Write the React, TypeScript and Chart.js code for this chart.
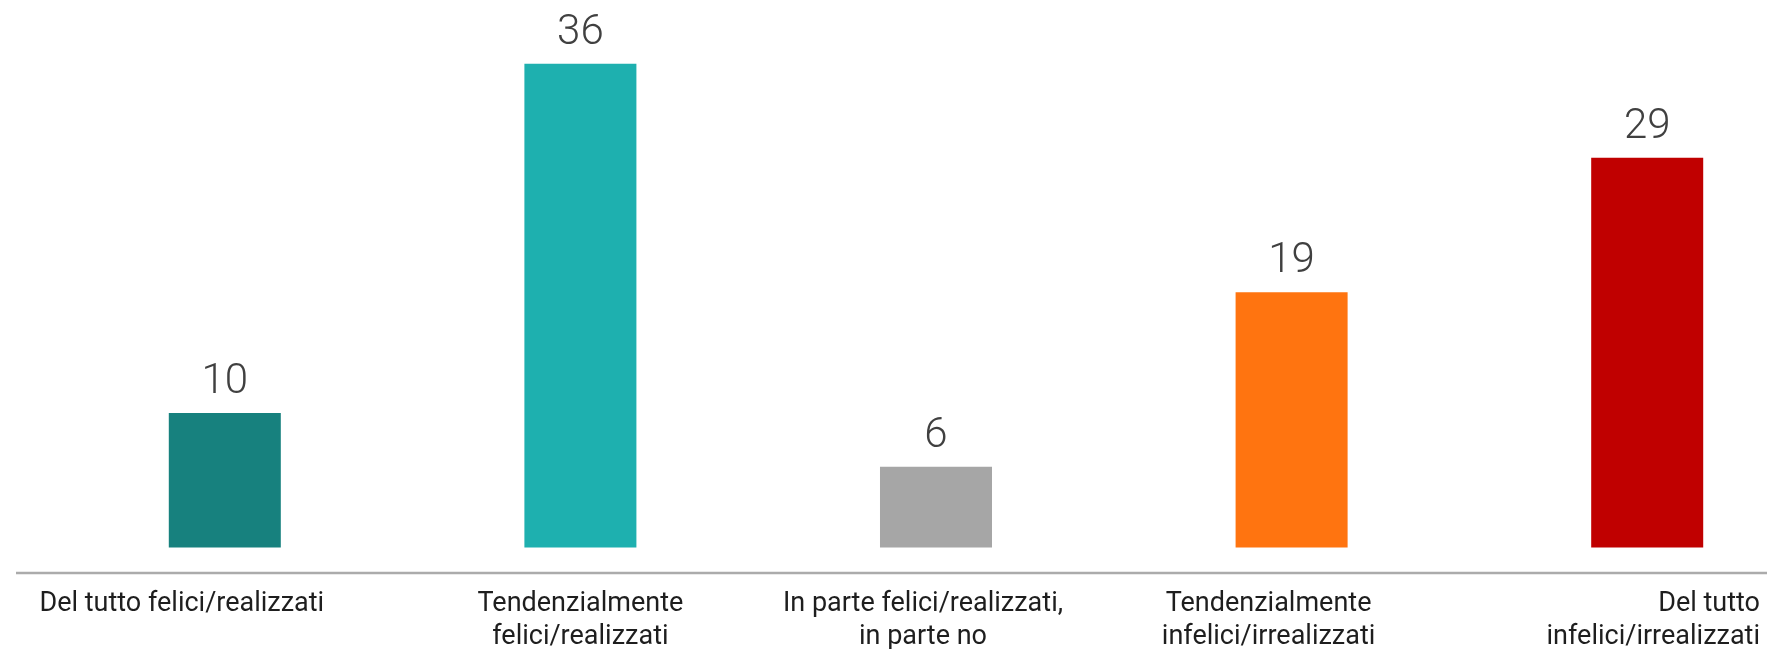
import React, { useEffect, useRef } from "react";
import { Chart, registerables } from "chart.js";

Chart.register(...registerables);

// ---- data ----
const categories: string[][] = [
  ["Del tutto felici/realizzati"],
  ["Tendenzialmente", "felici/realizzati"],
  ["In parte felici/realizzati,", "in parte no"],
  ["Tendenzialmente", "infelici/irrealizzati"],
  ["Del tutto", "infelici/irrealizzati"],
];
const values: number[] = [10, 36, 6, 19, 29];
const barColors: string[] = ["#17817E", "#1EB0AF", "#A6A6A6", "#FF7410", "#C00000"];

const Y_MIN = -1.9;
const Y_MAX = 40;
const VIEW_W = 1767;
const VIEW_H = 649;
const CANVAS_W = 1825;

// horizontal nudge of each category label relative to its tick (style only)
const LABEL_NUDGE = [-43, 0, -13, -23, 0];

const annotatePlugin = {
  id: "annotate",
  afterDatasetsDraw(chart: any) {
    const ctx = chart.ctx as CanvasRenderingContext2D;
    const meta = chart.getDatasetMeta(0);
    const area = chart.chartArea;
    ctx.save();

    // value labels
    ctx.font = "300 42px Roboto";
    ctx.fillStyle = "#404040";
    ctx.textAlign = "center";
    ctx.textBaseline = "alphabetic";
    meta.data.forEach((bar: any, i: number) => {
      ctx.fillText(String(values[i]), bar.x, bar.y - 20);
    });

    // axis line
    const yAxis = chart.scales.y.getPixelForValue(Y_MIN);
    ctx.strokeStyle = "#ABABAB";
    ctx.lineWidth = 2.5;
    ctx.beginPath();
    ctx.moveTo(16, yAxis);
    ctx.lineTo(chart.width, yAxis);
    ctx.stroke();

    // category labels
    ctx.font = "400 27px Roboto";
    ctx.fillStyle = "#1E1E1E";
    const xs = chart.scales.x;
    const rightEdge = VIEW_W - 7;
    categories.forEach((lines, i) => {
      const cx = xs.getPixelForTick(i) + LABEL_NUDGE[i];
      const maxW = Math.max(...lines.map((l) => ctx.measureText(l).width));
      let x = cx;
      let align: CanvasTextAlign = "center";
      if (cx + maxW / 2 > rightEdge - 20) {
        x = rightEdge;
        align = "right";
      }
      ctx.textAlign = align;
      lines.forEach((l, j) => {
        ctx.fillText(l, x, area.bottom + 38 + j * 33);
      });
    });
    ctx.restore();
  },
};

export default function App() {
  const canvasRef = useRef<HTMLCanvasElement | null>(null);

  useEffect(() => {
    if (!canvasRef.current) return;
    const chart = new Chart(canvasRef.current, {
      type: "bar",
      data: {
        labels: categories.map((c) => c.join(" ")),
        datasets: [
          {
            data: values,
            backgroundColor: barColors,
            borderWidth: 0,
            barPercentage: 0.315,
            categoryPercentage: 1,
          },
        ],
      },
      options: {
        responsive: false,
        animation: false,
        devicePixelRatio: 1,
        layout: { padding: { top: 10, bottom: 76, left: 47, right: 0 } },
        plugins: {
          legend: { display: false },
          tooltip: { enabled: false },
        },
        scales: {
          x: {
            display: false,
            offset: true,
            grid: { display: false },
          },
          y: {
            display: false,
            min: Y_MIN,
            max: Y_MAX,
            grid: { display: false },
          },
        },
      },
      plugins: [annotatePlugin],
    });
    return () => chart.destroy();
  }, []);

  return (
    <div
      style={{
        position: "fixed",
        left: 0,
        top: 0,
        width: VIEW_W,
        height: VIEW_H,
        overflow: "hidden",
        background: "#ffffff",
      }}
    >
      <canvas
        ref={canvasRef}
        width={CANVAS_W}
        height={VIEW_H}
        style={{ display: "block", width: CANVAS_W, height: VIEW_H }}
      />
    </div>
  );
}
